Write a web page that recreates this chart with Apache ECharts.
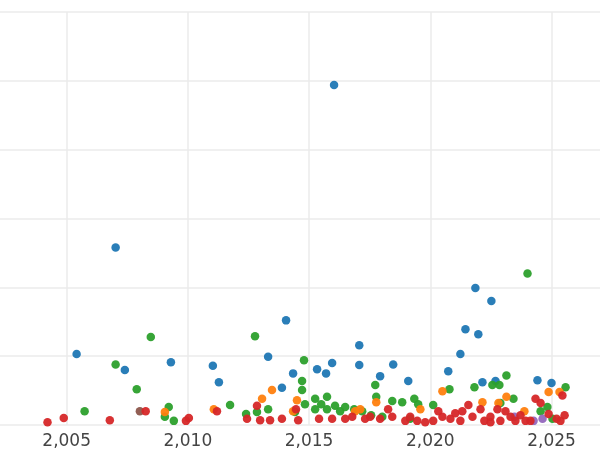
<!DOCTYPE html>
<html><head><meta charset="utf-8">
<script src="https://cdn.jsdelivr.net/npm/echarts@6/dist/echarts.min.js"></script>
<style>html,body{margin:0;padding:0;background:#fff}#c{width:600px;height:450px}</style>
</head><body><div id="c"></div>
<script>
const blue=[[2005.41,1.03],[2007.02,2.58],[2007.40,0.80],[2009.30,0.91],[2011.03,0.86],[2011.28,0.62],[2013.31,0.99],[2013.88,0.54],[2014.05,1.52],[2014.34,0.75],[2015.33,0.81],[2015.70,0.75],[2015.95,0.90],[2016.03,4.94],[2017.07,1.16],[2017.07,0.87],[2017.93,0.71],[2018.47,0.88],[2019.09,0.64],[2020.74,0.78],[2021.24,1.03],[2021.45,1.39],[2021.86,1.99],[2021.98,1.32],[2022.15,0.62],[2022.52,1.80],[2022.69,0.64],[2024.42,0.65],[2025.0,0.61]];
const green=[[2005.74,0.20],[2007.02,0.88],[2007.89,0.52],[2008.47,1.28],[2009.05,0.12],[2009.21,0.26],[2009.42,0.06],[2011.74,0.29],[2012.40,0.16],[2012.77,1.29],[2012.85,0.19],[2013.31,0.23],[2014.42,0.19],[2014.79,0.94],[2014.71,0.64],[2014.71,0.51],[2014.83,0.30],[2015.25,0.38],[2015.25,0.23],[2015.50,0.30],[2015.74,0.41],[2015.74,0.23],[2016.07,0.28],[2016.28,0.20],[2016.49,0.26],[2016.86,0.23],[2017.19,0.20],[2017.56,0.14],[2017.73,0.58],[2017.77,0.41],[2018.02,0.12],[2018.43,0.35],[2018.84,0.33],[2019.34,0.38],[2019.50,0.30],[2020.12,0.29],[2020.79,0.52],[2021.82,0.55],[2022.56,0.58],[2022.85,0.58],[2023.14,0.72],[2023.43,0.38],[2024.01,2.20],[2024.55,0.20],[2024.83,0.26],[2025.04,0.09],[2025.58,0.55],[2022.89,0.32],[2019.17,0.09]];
const orange=[[2009.05,0.19],[2011.07,0.23],[2013.06,0.38],[2013.47,0.51],[2014.50,0.36],[2014.34,0.20],[2016.90,0.20],[2017.77,0.33],[2019.59,0.23],[2020.50,0.49],[2022.15,0.33],[2022.81,0.32],[2023.14,0.41],[2023.88,0.20],[2024.88,0.48],[2025.33,0.48],[2017.11,0.23]];
const brown=[[2008.02,0.20]];
const purple=[[2023.47,0.12],[2024.26,0.06],[2024.63,0.09]];
const red=[[2004.21,0.04],[2004.88,0.10],[2006.78,0.07],[2008.26,0.20],[2009.92,0.06],[2010.04,0.10],[2011.20,0.20],[2012.44,0.09],[2012.85,0.28],[2012.98,0.07],[2013.39,0.07],[2013.88,0.09],[2014.46,0.23],[2014.55,0.07],[2015.41,0.09],[2015.95,0.09],[2016.49,0.09],[2016.78,0.12],[2018.26,0.23],[2017.93,0.09],[2018.43,0.12],[2018.97,0.06],[2019.46,0.06],[2019.79,0.04],[2020.12,0.06],[2020.33,0.20],[2020.50,0.12],[2020.83,0.09],[2021.03,0.17],[2021.32,0.20],[2021.57,0.29],[2021.74,0.12],[2022.07,0.23],[2022.23,0.06],[2022.48,0.12],[2022.77,0.23],[2022.89,0.06],[2023.10,0.20],[2023.31,0.12],[2023.51,0.06],[2023.72,0.14],[2023.93,0.06],[2024.34,0.38],[2024.55,0.32],[2024.88,0.16],[2025.21,0.09],[2025.45,0.43],[2025.54,0.14],[2025.37,0.06],[2024.13,0.06],[2022.48,0.04],[2021.24,0.06],[2019.17,0.12],[2017.31,0.09],[2017.52,0.12]];
const xTicks=[2005,2010,2015,2020,2025];
const chart=echarts.init(document.getElementById('c'));
const mk=(d,c)=>({type:'scatter',data:d,symbolSize:8.5,itemStyle:{color:c,opacity:0.95},silent:true});
chart.setOption({
  animation:false,
  grid:{left:0,right:0,top:12,bottom:24,containLabel:false},
  xAxis:{type:'value',min:2002.25,max:2027,axisLine:{show:false},
    axisTick:{show:false,customValues:xTicks},
    axisLabel:{color:'#444',fontSize:17,fontFamily:'DejaVu Sans',margin:8,customValues:xTicks},
    splitLine:{show:true,lineStyle:{color:'#ebebeb',width:1.5}}},
  yAxis:{type:'value',min:0,max:6,interval:1,axisLine:{show:false},axisTick:{show:false},axisLabel:{show:false},
    splitLine:{lineStyle:{color:'#ebebeb',width:1.5}}},
  series:[mk(blue,'#1f77b4'),mk(green,'#2ca02c'),mk(orange,'#ff7f0e'),mk(brown,'#8c564b'),mk(purple,'#9467bd'),mk(red,'#d62728')]
});
</script></body></html>
